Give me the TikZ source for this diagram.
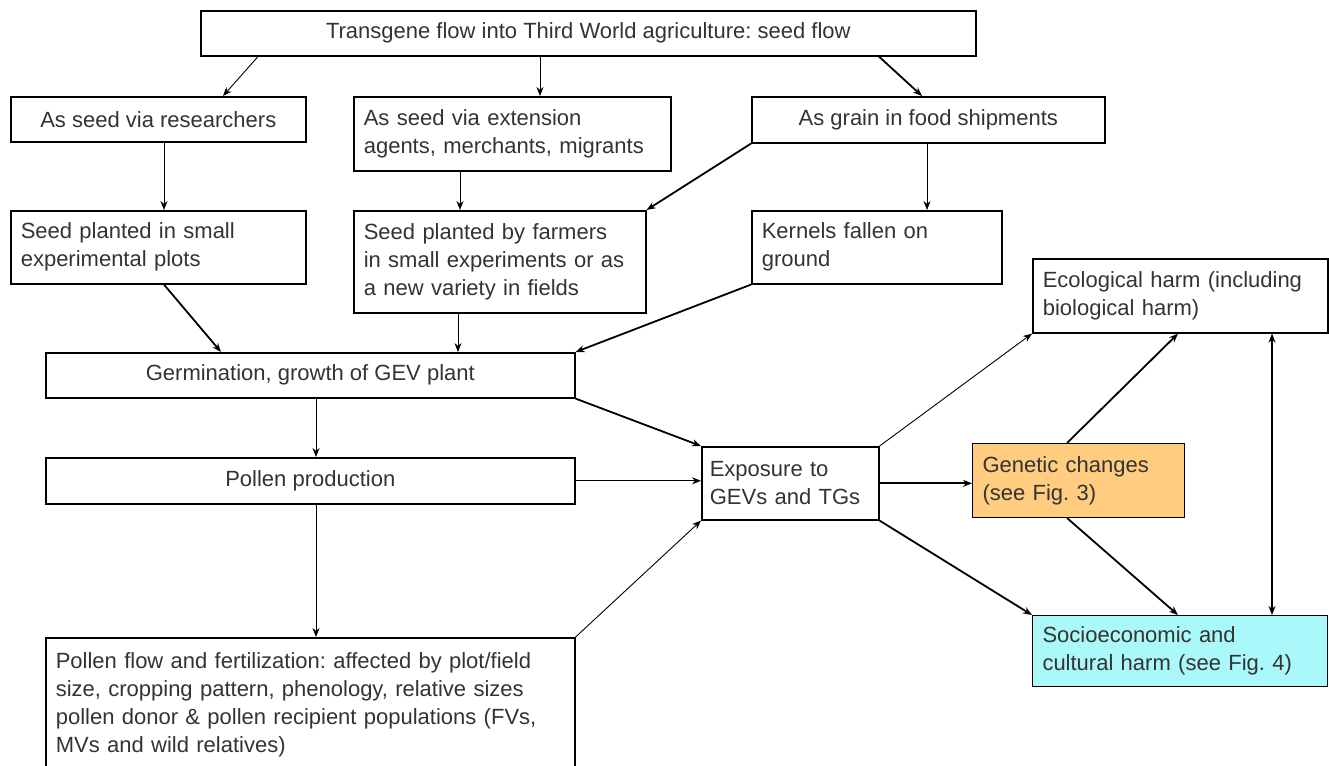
\documentclass[tikz,border=0pt]{standalone}
\usepackage{fontspec}
\setmainfont{Liberation Sans}
\usepackage{tikz}
\usetikzlibrary{arrows.meta,positioning,calc}

\definecolor{txtgrey}{HTML}{333333}
\definecolor{genorange}{HTML}{FFCC80}
\definecolor{sociocyan}{HTML}{AAF8FA}
\frenchspacing

\begin{document}
\begin{tikzpicture}[x=1pt, y=-1pt, >={Stealth[length=9pt,width=7pt]}, semithick]
\tikzstyle{box}=[draw=black, line width=1.6pt, rectangle, anchor=north west, text=txtgrey,
  inner xsep=10pt, inner ysep=0pt, font=\fontsize{22}{28}\selectfont]
\tikzstyle{lbox}=[box, align=left]
\tikzstyle{thin}=[->, line width=0.9pt]
\tikzstyle{thick}=[->, line width=1.8pt]
\useasboundingbox (0,0) rectangle (1329,765);

% top row
\node[box, minimum width=775pt, minimum height=45pt] (top) at (200,10)
  {Transgene flow into Third World agriculture: seed flow};
\node[box, minimum width=295pt, minimum height=45pt] (res) at (10,96)
  {As seed via researchers};
\node[lbox, text width=297pt, minimum height=74pt] (ext) at (353,96)
  {As seed via extension\\agents, merchants, migrants};
\node[box, minimum width=353pt, minimum height=46pt] (grain) at (751,96)
  {As grain in food shipments};

% where the seed ends up
\node[lbox, text width=275pt, minimum height=73pt] (plots) at (10,210)
  {Seed planted in small\\experimental plots};
\node[lbox, text width=272pt, minimum height=102pt] (farmers) at (353,210)
  {Seed planted by farmers\\in small experiments or as\\a new variety in fields};
\node[lbox, text width=230pt, minimum height=73pt] (kernels) at (751,210)
  {Kernels fallen on\\ground};

% plant and pollen
\node[box, minimum width=529pt, minimum height=45pt] (germ) at (45,352)
  {Germination, growth of GEV plant};
\node[box, minimum width=529pt, minimum height=46pt] (pollen) at (45,457)
  {Pollen production};
\node[lbox, text width=509pt, minimum height=133pt] (pflow) at (45,637)
  {Pollen flow and fertilization: affected by plot/field\\size, cropping pattern, phenology, relative sizes\\pollen donor \& pollen recipient populations (FVs,\\MVs and wild relatives)};

% exposure and harm
\node[lbox, inner xsep=8pt, text width=161pt, minimum height=73pt] (expo) at (701,446)
  {Exposure to\\GEVs and TGs};
\node[lbox, fill=genorange, line width=1pt, text width=192pt, minimum height=74pt] (genetic) at (972,443)
  {Genetic changes\\(see Fig. 3)};
\node[lbox, text width=275pt, minimum height=74pt] (eco) at (1032,258)
  {Ecological harm (including\\biological harm)};
\node[lbox, fill=sociocyan, line width=1pt, text width=275pt, minimum height=71pt] (socio) at (1032,615)
  {Socioeconomic and\\cultural harm (see Fig. 4)};

\path
([xshift=58pt]top.south west)   edge[thin]  ([xshift=213pt]res.north west)
([xshift=340pt]top.south west)  edge[thin]  ([xshift=187pt]ext.north west)
([xshift=679pt]top.south west)  edge[thick] ([xshift=171pt]grain.north west)
([xshift=154pt]res.south west)  edge[thin]  ([xshift=154pt]plots.north west)
([xshift=107pt]ext.south west)  edge[thin]  ([xshift=107pt]farmers.north west)
(grain.south west)              edge[thick] (farmers.north east)
([xshift=176pt]grain.south west) edge[thin] ([xshift=176pt]kernels.north west)
([xshift=154pt]plots.south west) edge[thick] ([xshift=176pt]germ.north west)
([xshift=105pt]farmers.south west) edge[thin] ([xshift=413pt]germ.north west)
(kernels.south west)            edge[thick] (germ.north east)
([xshift=271pt]germ.south west) edge[thin]  ([xshift=271pt]pollen.north west)
(germ.south east)               edge[thick] (expo.north west)
(pollen.east)                   edge[thin]  (pollen.east -| expo.west)
([xshift=271pt]pollen.south west) edge[thin] ([xshift=271pt]pflow.north west)
(pflow.north east)              edge[thin]  (expo.south west)
(expo.north east)               edge[thin]  (eco.south west)
(expo.east)                     edge[thick] (expo.east -| genetic.west)
(expo.south east)               edge[thick] (socio.north west)
([xshift=95pt]genetic.north west) edge[thick] ([xshift=146pt]eco.south west)
([xshift=95pt]genetic.south west) edge[thick] ([xshift=146pt]socio.north west)
([xshift=240pt]eco.south west)  edge[thick, <->] ([xshift=240pt]socio.north west);
\end{tikzpicture}
\end{document}
